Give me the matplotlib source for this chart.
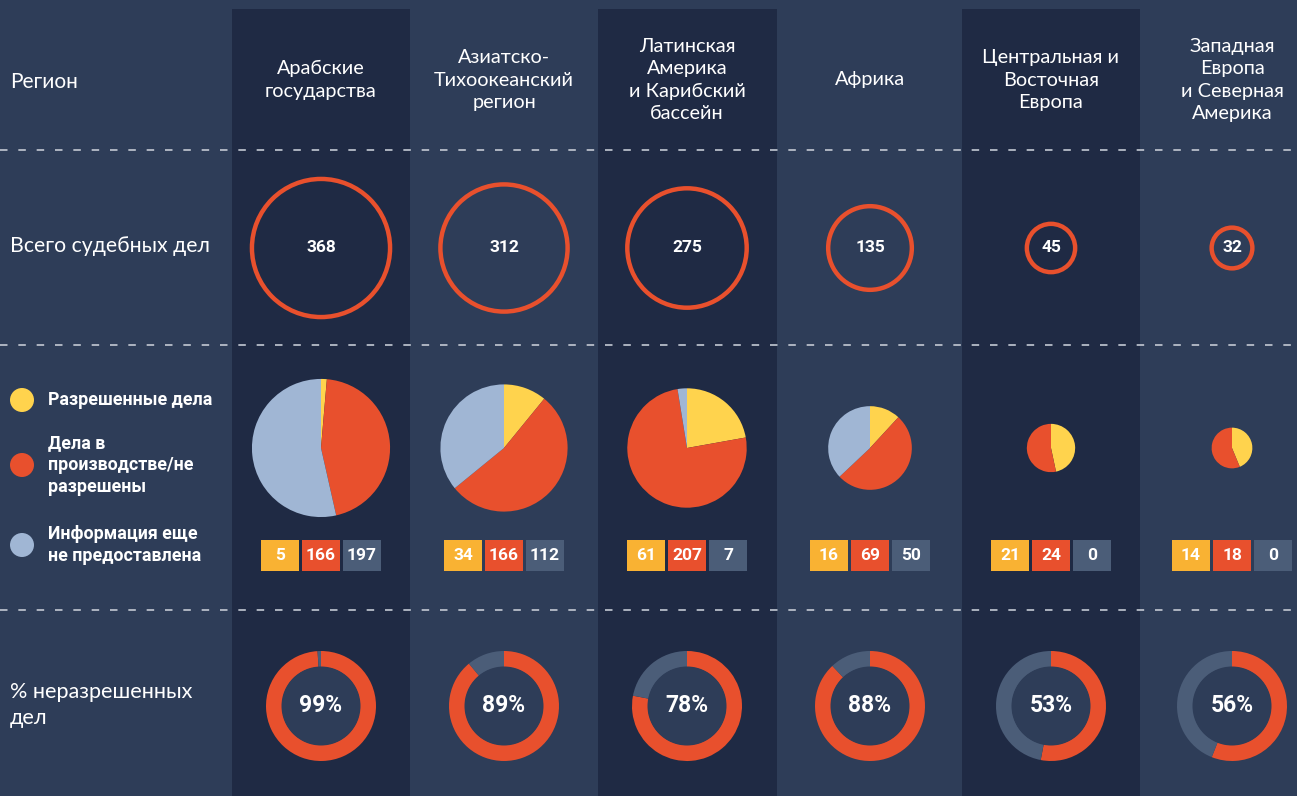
import matplotlib
matplotlib.use("Agg")
import numpy as np
import matplotlib.pyplot as plt
from matplotlib.patches import Circle, Rectangle

# data
regions = ["Арабские\nгосударства", "Азиатско-\nТихоокеанский\nрегион",
           "Латинская\nАмерика\nи Карибский\nбассейн", "Африка",
           "Центральная и\nВосточная\nЕвропа", "Западная\nЕвропа\nи Северная\nАмерика"]
total_cases = [368, 312, 275, 135, 45, 32]
resolved = [5, 34, 61, 16, 21, 14]
pending = [166, 166, 207, 69, 24, 18]
no_info = [197, 112, 7, 50, 0, 0]
pct_unresolved = [99, 89, 78, 88, 53, 56]

row_labels = ["Регион", "Всего судебных дел", "% неразрешенных\nдел"]
legend_labels = ["Разрешенные дела", "Дела в\nпроизводстве/не\nразрешены",
                 "Информация еще\nне предоставлена"]

# colours
BG = "#2e3d58"
DARK = "#1f2a44"
RED = "#e8502d"
YEL_PIE = "#ffd34d"
YEL_BOX = "#f9b233"
BLUE = "#a0b6d4"
SLATE = "#4b5d78"
DASH = "#c3c9d3"

W, H = 1297, 796
fig = plt.figure(figsize=(W / 100, H / 100), dpi=100, facecolor=BG)
ax = fig.add_axes([0, 0, 1, 1])
ax.set_facecolor(BG)


def Y(py):
    return H - py


col_x = [321, 504, 687, 870, 1051, 1232]
col_edges = [(232, 410), (598, 777), (962, 1140)]
for x0, x1 in col_edges:
    ax.add_patch(Rectangle((x0, 0), x1 - x0, Y(9), color=DARK, lw=0, zorder=0))

for py in [150, 345, 610]:
    ax.plot([0, W], [Y(py), Y(py)], color=DASH, lw=1.2, dashes=(4.5, 6.5), zorder=1)

head_font = "Lato"
bold_font = "Roboto"

# left labels
ax.text(10, Y(82), row_labels[0], color="white", fontsize=15, family=head_font,
        va="center", ha="left")
ax.text(10, Y(246), row_labels[1], color="white", fontsize=15.3, family=head_font,
        va="center", ha="left")
ax.text(10, Y(705), row_labels[2], color="white", fontsize=15.6, family=head_font,
        va="center", ha="left", linespacing=1.35)

# legend
for py, c, lab in zip([400, 465, 545], [YEL_PIE, RED, BLUE], legend_labels):
    ax.add_patch(Circle((22, Y(py)), 12, color=c, lw=0))
    ax.text(48, Y(py), lab, color="white", fontsize=12.8, family=bold_font,
            fontweight="bold", va="center", ha="left", linespacing=1.3)

for i, cx in enumerate(col_x):
    # header
    ax.text(cx, Y(80), regions[i], color="white", fontsize=14.3, family=head_font,
            ha="center", va="center", linespacing=1.4)

    # total circle, area proportional to cases
    r = 3.6 * np.sqrt(total_cases[i])
    ax.add_patch(Circle((cx, Y(248)), r, fill=False, ec=RED, lw=3.2, zorder=3))
    ax.text(cx, Y(248), str(total_cases[i]), color="white", fontsize=12.5,
            family=bold_font, fontweight="bold", ha="center", va="center")

    # pie
    vals = [resolved[i], pending[i], no_info[i]]
    ax.pie(vals, colors=[YEL_PIE, RED, BLUE], center=(cx, Y(448)), radius=r,
           startangle=90, counterclock=False, wedgeprops=dict(linewidth=0),
           frame=True)

    # value boxes
    for k, (v, c) in enumerate(zip(vals, [YEL_BOX, RED, SLATE])):
        bx = cx + (k - 1) * 41
        ax.add_patch(Rectangle((bx - 19, Y(571)), 38, 31, color=c, lw=0, zorder=3))
        ax.text(bx, Y(556), str(v), color="white", fontsize=12.5, family=bold_font,
                fontweight="bold", ha="center", va="center", zorder=4)

    # donut
    p = pct_unresolved[i]
    ax.pie([p, 100 - p], colors=[RED, SLATE], center=(cx, Y(706)), radius=55,
           startangle=90, counterclock=False,
           wedgeprops=dict(width=16, linewidth=0), frame=True)
    ax.add_patch(Circle((cx, Y(706)), 39.5, color=BG, lw=0, zorder=2))
    ax.text(cx, Y(706), f"{p}%", color="white", fontsize=16.5, family=bold_font,
            fontweight="bold", ha="center", va="center", zorder=4)

ax.set_xlim(0, W)
ax.set_ylim(0, H)
ax.set_aspect("auto")
ax.axis("off")

fig.savefig("out.png", dpi=100, facecolor=BG)
